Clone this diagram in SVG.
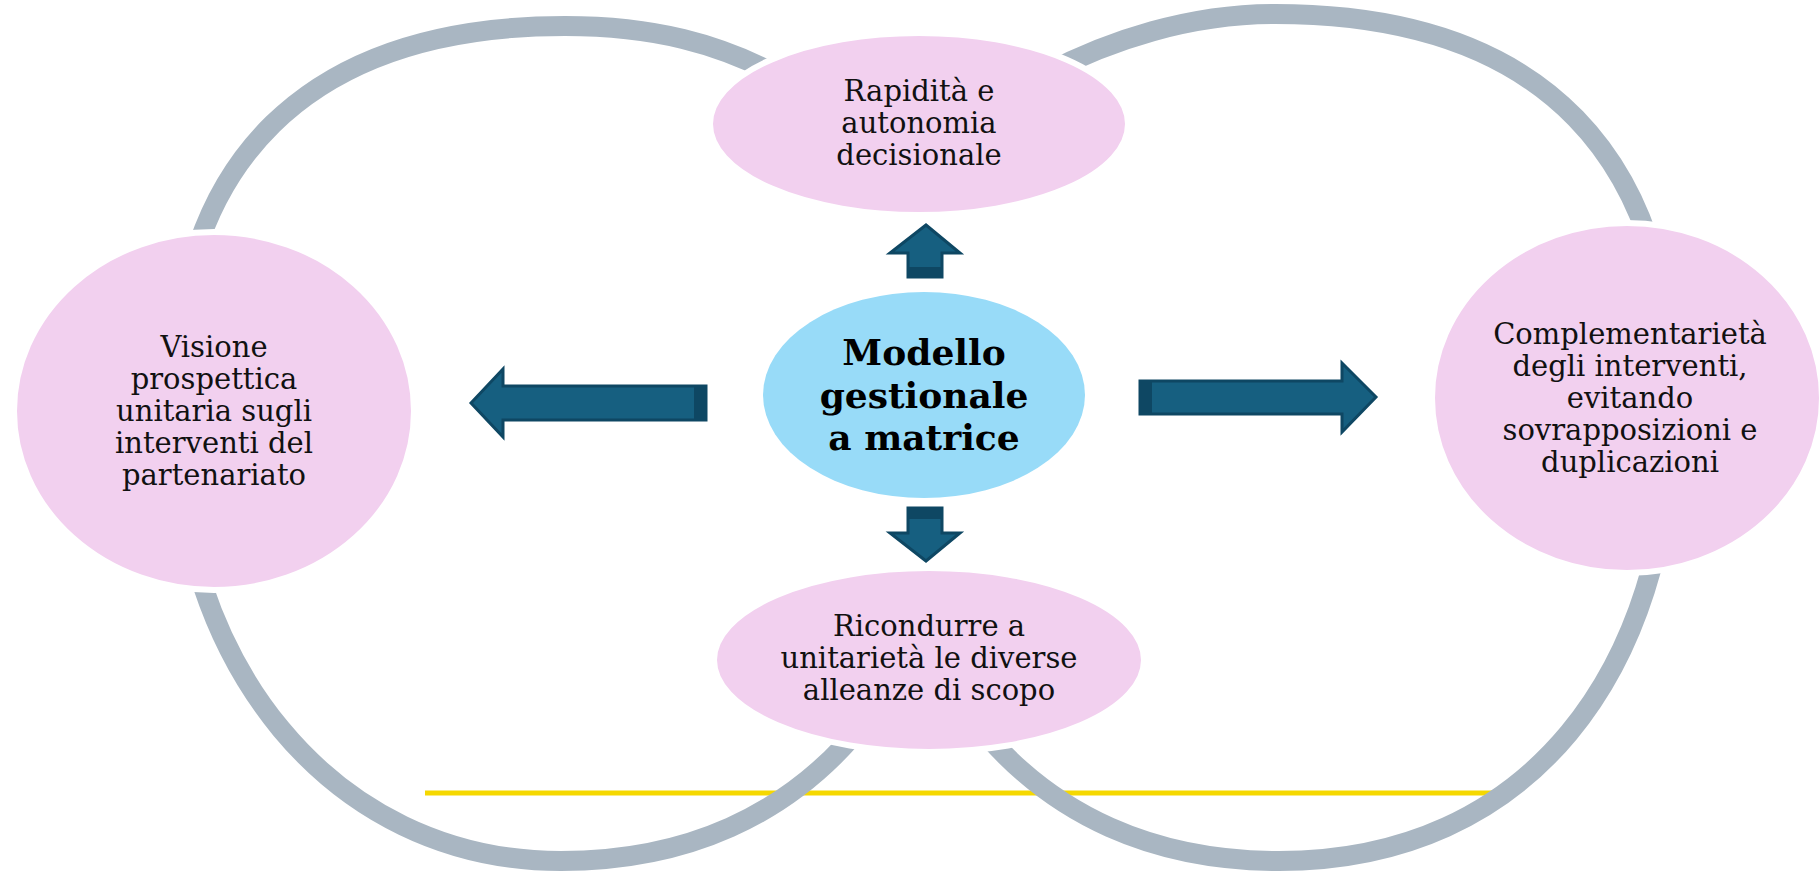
<svg xmlns="http://www.w3.org/2000/svg" width="1820" height="885" viewBox="0 0 1820 885">
<style>
.ring{fill:none;stroke:#A9B6C2;stroke-width:20;stroke-linecap:butt}
.pink{fill:#F2D0EF;stroke:#FFFFFF;stroke-width:6}
.blue{fill:#98DBF8}
.arrow{fill:#165F80;stroke:#0E4763;stroke-width:3;stroke-linejoin:miter}
.band{fill:#0E4763}
.t{font-family:"DejaVu Serif","Liberation Serif",serif;font-size:29px;fill:#111;text-anchor:middle}
.tb{font-family:"DejaVu Serif","Liberation Serif",serif;font-size:36px;font-weight:bold;fill:#000;text-anchor:middle}
</style>
<rect width="1820" height="885" fill="#FFFFFF"/>
<g id="background">
<line x1="425" y1="793" x2="1497" y2="793" stroke="#F5D800" stroke-width="5"/>
<path class="ring" d="M 790,82 C 720,42 650,26 565,26 C 310,26 170,160 176,410 C 174,660 330,861 561,861 C 680,861 790,820 870,715"/>
<path class="ring" d="M 1045,74 C 1110,40 1190,14 1275,14 C 1545,14 1675,160 1672,410 C 1670,670 1530,861 1279,861 C 1160,861 1050,820 970,715"/>
</g>
<g id="connectors">
<polygon class="arrow" points="471,403 503,369 503,386 706,386 706,420 503,420 503,437"/>
<rect class="band" x="694" y="386" width="12" height="34"/>
<polygon class="arrow" points="1376,397 1342,363 1342,381 1140,381 1140,414 1342,414 1342,432"/>
<rect class="band" x="1140" y="381" width="12" height="33"/>
<polygon class="arrow" points="926,225 960,253 942,253 942,277 908,277 908,253 890,253"/>
<rect class="band" x="908" y="267" width="34" height="10"/>
<polygon class="arrow" points="926,561 960,533 942,533 942,508 908,508 908,533 890,533"/>
<rect class="band" x="908" y="508" width="34" height="11"/>
</g>
<g id="node-top">
<ellipse class="pink" cx="919" cy="124" rx="209" ry="91"/>
<text class="t" x="919" y="101">Rapidità e</text>
<text class="t" x="919" y="133">autonomia</text>
<text class="t" x="919" y="165">decisionale</text>
</g>
<g id="node-left">
<ellipse class="pink" cx="214" cy="411" rx="200" ry="179"/>
<text class="t" x="214" y="357">Visione</text>
<text class="t" x="214" y="389">prospettica</text>
<text class="t" x="214" y="421">unitaria sugli</text>
<text class="t" x="214" y="453">interventi del</text>
<text class="t" x="214" y="485">partenariato</text>
</g>
<g id="node-right">
<ellipse class="pink" cx="1627" cy="398" rx="195" ry="175"/>
<text class="t" x="1630" y="344">Complementarietà</text>
<text class="t" x="1630" y="376">degli interventi,</text>
<text class="t" x="1630" y="408">evitando</text>
<text class="t" x="1630" y="440">sovrapposizioni e</text>
<text class="t" x="1630" y="472">duplicazioni</text>
</g>
<g id="node-bottom">
<ellipse class="pink" cx="929" cy="660" rx="215" ry="92"/>
<text class="t" x="929" y="636">Ricondurre a</text>
<text class="t" x="929" y="668">unitarietà le diverse</text>
<text class="t" x="929" y="700">alleanze di scopo</text>
</g>
<g id="node-center">
<ellipse class="blue" cx="924" cy="395" rx="161" ry="103"/>
<text class="tb" x="924" y="365">Modello</text>
<text class="tb" x="924" y="408">gestionale</text>
<text class="tb" x="924" y="450">a matrice</text>
</g>
</svg>
